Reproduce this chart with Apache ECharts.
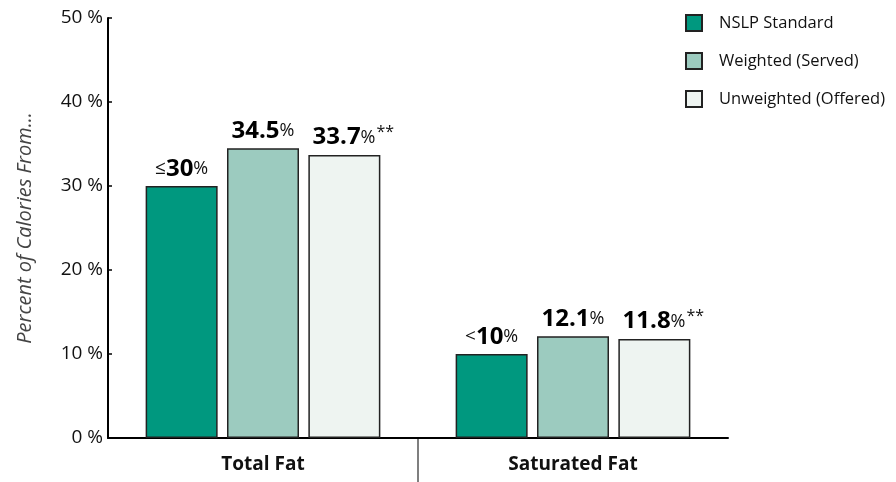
<!DOCTYPE html>
<html>
<head>
<meta charset="utf-8">
<script src="https://cdn.jsdelivr.net/npm/echarts@6/dist/echarts.min.js"></script>
<style>
html,body{margin:0;padding:0;background:#fff;}
#c{width:896px;height:482px;}
</style>
</head>
<body>
<div id="c"></div>
<script>
const categories = ['Total Fat', 'Saturated Fat'];
const seriesNames = ['NSLP Standard', 'Weighted (Served)', 'Unweighted (Offered)'];
const nslp = [30, 10];
const weighted = [34.5, 12.1];
const unweighted = [33.7, 11.8];
const nslpPrefix = ['≤', '<'];
const unweightedNote = '**';
const yMin = 0, yMax = 50, yStep = 10;

const FONT = 'Open Sans';
const colors = ['#00987f', '#9ccbbf', '#eef4f1'];

const numRich = {
  sym: { fontFamily: FONT, fontSize: 19, color: '#111', fontWeight: 'normal' },
  num: { fontFamily: FONT, fontSize: 24, color: '#000', fontWeight: 'bold' },
  pct: { fontFamily: FONT, fontSize: 18, color: '#111', fontWeight: 'normal' },
  star: { fontFamily: FONT, fontSize: 16, color: '#111', verticalAlign: 'top', padding: [0, 0, 9, 1] },
  pad: { width: 18 }
};

function mkSeries(i, values, fmt) {
  return {
    name: seriesNames[i],
    type: 'bar',
    data: values,
    barWidth: 72,
    barGap: '13%',
    itemStyle: { color: colors[i], borderColor: '#222', borderWidth: 1.5 },
    label: {
      show: true,
      position: 'top',
      distance: 5,
      formatter: fmt,
      rich: numRich
    }
  };
}

const chart = echarts.init(document.getElementById('c'), null, { renderer: 'canvas' });
chart.setOption({
  animation: false,
  backgroundColor: '#fff',
  grid: { left: 108, top: 18, width: 620, bottom: 44, containLabel: false },
  legend: {
    orient: 'vertical',
    left: 685,
    top: 14,
    padding: 0,
    itemWidth: 16,
    itemHeight: 16,
    itemGap: 20,
    icon: 'rect',
    data: seriesNames,
    textStyle: { fontFamily: FONT, fontSize: 16.5, color: '#111', padding: [0, 0, 0, 12] }
  },
  xAxis: {
    type: 'category',
    data: categories,
    axisLine: { lineStyle: { color: '#000', width: 2 } },
    axisTick: { show: false },
    axisLabel: { margin: 17, fontFamily: FONT, fontSize: 19, fontWeight: 'bold', color: '#111' }
  },
  yAxis: {
    type: 'value',
    min: yMin, max: yMax, interval: yStep,
    name: 'Percent of Calories From...',
    nameLocation: 'middle',
    nameGap: 73,
    nameTextStyle: { fontFamily: FONT, fontSize: 20, fontStyle: 'italic', color: '#444' },
    axisLine: { show: true, lineStyle: { color: '#000', width: 2 } },
    axisTick: { show: true, inside: true, length: 4, lineStyle: { color: '#000', width: 1.5 } },
    splitLine: { show: false },
    axisLabel: {
      show: true,
      margin: 5,
      fontFamily: FONT,
      fontSize: 19,
      color: '#111',
      formatter: '{value} %'
    }
  },
  series: [
    mkSeries(0, nslp, p => '{sym|' + nslpPrefix[p.dataIndex] + '}{num|' + p.value + '}{pct|%}'),
    mkSeries(1, weighted, p => '{num|' + p.value + '}{pct|%}'),
    mkSeries(2, unweighted, p => '{pad|}{num|' + p.value + '}{pct|%}{star|' + unweightedNote + '}')
  ]
});

// divider between the categories, placed from the library's own scales
const c0 = chart.convertToPixel({ xAxisIndex: 0 }, categories[0]);
const c1 = chart.convertToPixel({ xAxisIndex: 0 }, categories[1]);
const yBase = chart.convertToPixel({ yAxisIndex: 0 }, yMin);
const mid = (c0 + c1) / 2;
chart.setOption({
  graphic: [{
    type: 'line',
    shape: { x1: mid, y1: yBase + 1, x2: mid, y2: 482 },
    style: { stroke: '#555', lineWidth: 1.5 }
  }]
});
</script>
</body>
</html>
